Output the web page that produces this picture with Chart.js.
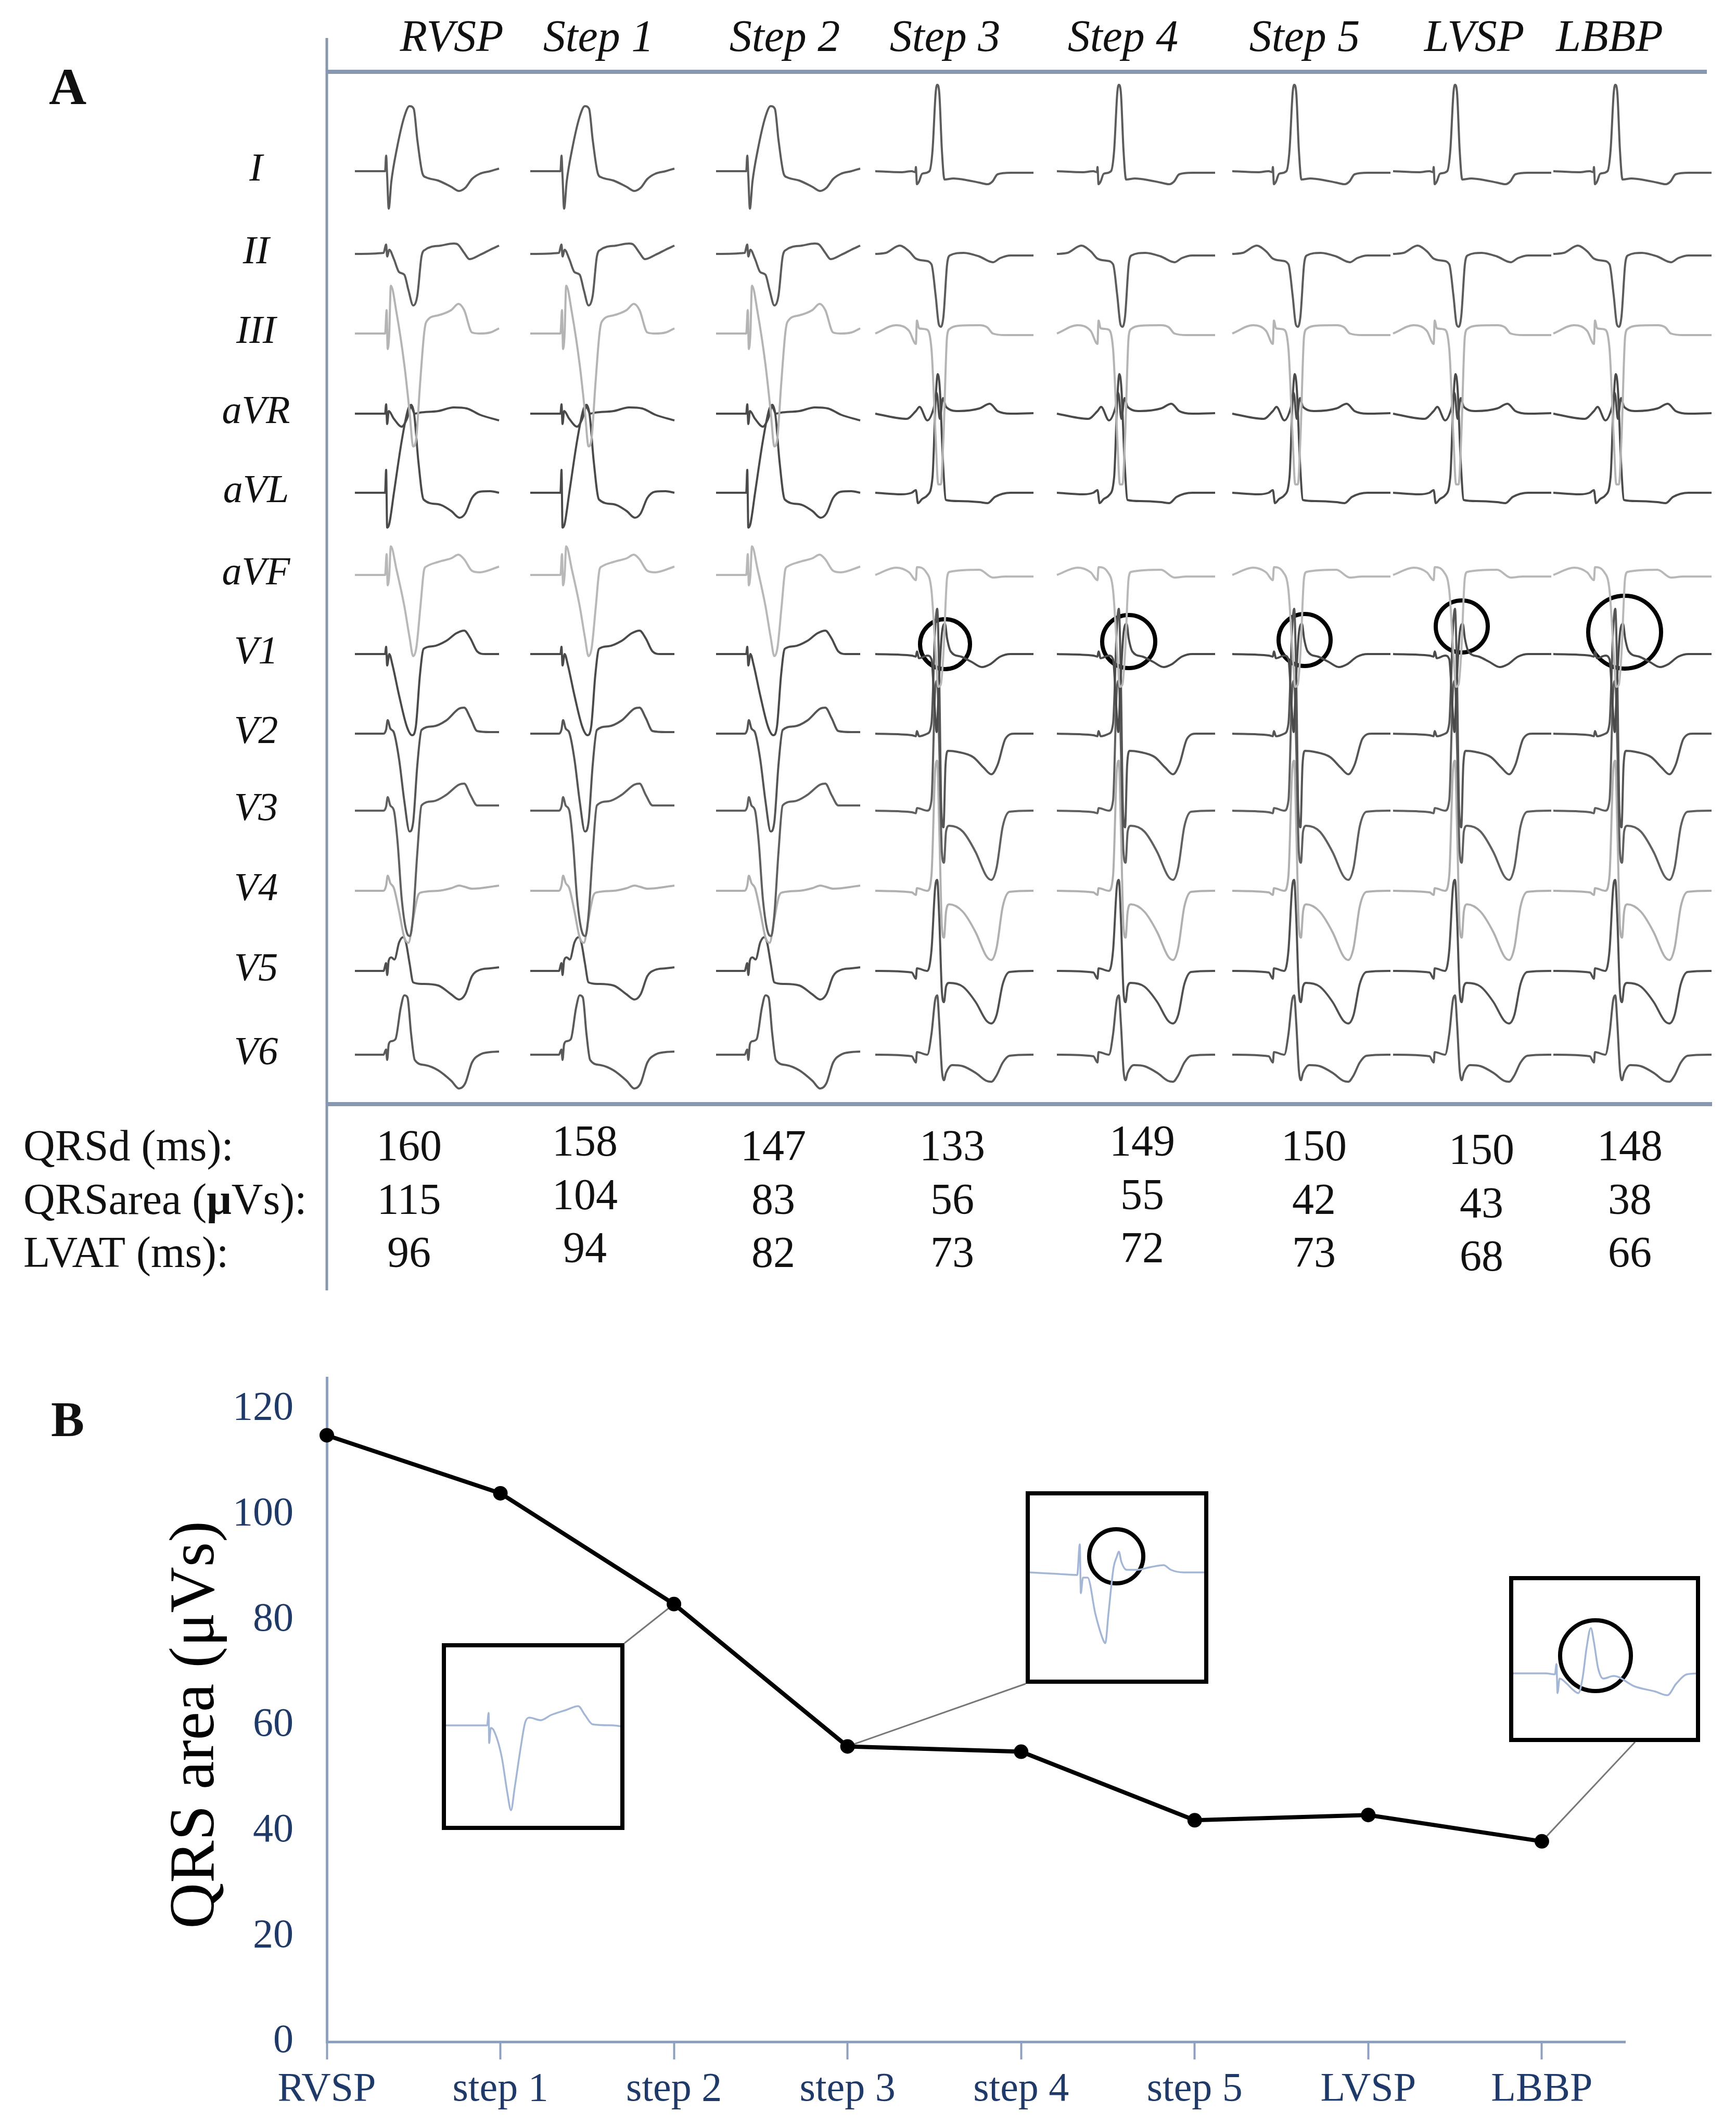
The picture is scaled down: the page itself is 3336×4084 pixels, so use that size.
<!DOCTYPE html>
<html>
<head>
<meta charset="utf-8">
<script src="https://cdn.jsdelivr.net/npm/chart.js@4.4.1/dist/chart.umd.min.js"></script>
<style>
html, body { margin: 0; padding: 0; background: #fff; }
body { width: 3336px; height: 4084px; position: relative; overflow: hidden; }
canvas { position: absolute; }
.inset { position: absolute; border: 8px solid #000; background: #fff; box-sizing: border-box; }
.inset canvas { left: 0; top: 0; }
</style>
</head>
<body>
<canvas id="ecg" width="3336" height="2480" style="left:0;top:0"></canvas>
<canvas id="area" width="3336" height="1604" style="left:0;top:2480px"></canvas>
<div class="inset" id="box0"><canvas id="inset0"></canvas></div>
<div class="inset" id="box1"><canvas id="inset1"></canvas></div>
<div class="inset" id="box2"><canvas id="inset2"></canvas></div>
<script>
// ---------- data ----------
const steps = ['RVSP', 'Step 1', 'Step 2', 'Step 3', 'Step 4', 'Step 5', 'LVSP', 'LBBP'];
const stepTicks = ['RVSP', 'step 1', 'step 2', 'step 3', 'step 4', 'step 5', 'LVSP', 'LBBP'];
const leads = ['I', 'II', 'III', 'aVR', 'aVL', 'aVF', 'V1', 'V2', 'V3', 'V4', 'V5', 'V6'];
const qrsDuration = [160, 158, 147, 133, 149, 150, 150, 148];
const qrsArea = [115, 104, 83, 56, 55, 42, 43, 38];
const lvat = [96, 94, 82, 73, 72, 73, 68, 66];
const yTicks = [0, 20, 40, 60, 80, 100, 120];
// which beat shape each step shows (wide RV-type or narrow conduction-system type)
const morph = ['wide', 'wide', 'wide', 'narrow', 'narrow', 'narrow', 'narrow', 'narrow'];

// beat shapes, [time from pacing spike, amplitude]
const wideI = [[-61,0],[-3,0],[-1,30],[1,-10],[4,-72],[9,-20],[19,40],[34,105],[44,125],[52,120],[59,60],[69,-5],[76,-12],[99,-18],[124,-30],[139,-38],[151,-32],[164,-15],[179,-5],[199,0],[216,5]];
const wideII = [[-61,0],[-6,2],[-1,18],[1,-5],[5,8],[14,-10],[24,-35],[34,-40],[42,-70],[51,-99],[59,-80],[67,-5],[74,8],[104,16],[129,20],[137,18],[149,2],[159,-10],[179,-2],[199,8],[216,16]];
const wideIII = [[-61,0],[-3,0],[0,45],[2,-30],[5,0],[8,92],[19,40],[34,-60],[44,-150],[51,-217],[57,-200],[64,-100],[72,0],[76,22],[99,35],[124,45],[138,57],[149,45],[164,2],[179,0],[199,2],[216,10]];
const wideAVR = [[-61,0],[-3,0],[-1,18],[1,-20],[4,5],[14,-10],[29,-25],[39,-10],[47,13],[54,0],[64,2],[99,5],[129,12],[154,10],[179,-2],[216,-13]];
const wideAVL = [[-61,0],[-3,0],[-1,44],[1,-67],[5,-60],[14,0],[29,100],[41,160],[47,169],[53,150],[61,60],[71,-13],[99,-22],[124,-35],[140,-48],[151,-40],[164,-10],[179,2],[199,3],[216,0]];
const wideAVF = [[-61,0],[-3,0],[0,40],[2,-20],[5,0],[8,55],[19,10],[34,-60],[44,-120],[51,-156],[57,-140],[65,-60],[72,10],[76,16],[99,25],[124,32],[138,39],[149,30],[164,8],[179,5],[216,16]];
const wideV1 = [[-61,0],[-3,0],[-1,14],[1,-22],[5,0],[11,-20],[24,-80],[39,-140],[49,-156],[56,-140],[64,-40],[71,10],[89,15],[114,25],[134,40],[149,45],[161,30],[174,5],[189,0],[216,0]];
const wideV2 = [[-61,0],[-6,0],[-1,8],[2,26],[7,10],[14,2],[24,-50],[34,-130],[44,-188],[51,-170],[59,-60],[67,7],[89,14],[114,25],[139,48],[149,50],[161,30],[174,5],[199,3],[216,3]];
const wideV3 = [[-61,0],[-6,0],[-1,8],[2,26],[7,10],[14,0],[21,-60],[29,-170],[39,-235],[45,-241],[51,-200],[59,-80],[67,10],[89,18],[114,30],[139,50],[149,52],[161,30],[174,10],[216,10]];
const wideV4 = [[-61,0],[-6,0],[-1,10],[2,29],[7,15],[14,5],[24,-40],[34,-90],[42,-100],[50,-60],[60,-10],[67,-3],[99,0],[124,5],[139,10],[149,8],[164,4],[216,10]];
const wideV5 = [[-61,0],[-6,0],[-1,15],[1,-8],[4,20],[9,26],[15,22],[24,55],[32,65],[37,55],[44,15],[51,-22],[69,-25],[99,-28],[124,-45],[139,-55],[151,-45],[164,-10],[179,2],[199,5],[216,7]];
const wideV6 = [[-61,0],[-6,0],[-1,10],[1,-10],[4,20],[9,26],[17,30],[27,90],[34,114],[40,110],[47,40],[54,-10],[74,-20],[99,-30],[124,-50],[139,-65],[151,-55],[164,-15],[179,0],[199,5],[216,6]];

const narrowI = [[-78,0],[-28,-2],[-8,0],[-1,-2],[0,8],[2,-25],[6,-20],[12,-5],[26,0],[32,40],[38,150],[41,166],[45,150],[50,40],[55,-16],[72,-14],[102,-18],[122,-22],[138,-25],[147,-20],[157,-6],[182,-3],[226,-3]];
const narrowII = [[-78,0],[-58,2],[-31,16],[-13,5],[0,-9],[17,-13],[30,-20],[38,-80],[44,-135],[48,-140],[53,-120],[60,-20],[65,-3],[92,2],[122,-5],[148,-16],[162,-8],[182,-3],[226,-3]];
const narrowIII = [[-78,0],[-38,16],[-13,5],[0,-20],[2,25],[6,10],[20,8],[30,-30],[38,-200],[43,-290],[48,-290],[53,-200],[60,-5],[65,9],[82,15],[122,16],[137,12],[148,0],[172,-3],[226,-3]];
const narrowAVR = [[-78,0],[-38,-8],[-18,-10],[0,5],[7,13],[22,-13],[34,10],[40,40],[46,-10],[52,30],[58,13],[82,5],[122,10],[142,19],[157,5],[182,0],[226,1]];
const narrowAVL = [[-78,0],[-28,-3],[-8,0],[0,5],[4,-20],[12,-12],[22,-5],[32,30],[38,180],[42,228],[46,200],[52,60],[58,-14],[82,-16],[122,-18],[138,-20],[152,-8],[182,0],[226,0]];
const narrowAVF = [[-78,0],[-38,14],[-13,5],[0,-10],[2,15],[20,5],[30,-30],[38,-150],[43,-215],[48,-210],[53,-150],[60,-5],[65,6],[122,10],[148,-5],[172,-3],[226,-3]];
const narrowV1 = [[-78,0],[-8,-3],[0,-5],[2,5],[6,-8],[22,-3],[30,-10],[36,-100],[40,-150],[44,-60],[50,40],[56,58],[60,30],[67,5],[87,-5],[107,-15],[127,-25],[142,-20],[162,-5],[182,0],[226,0]];
const narrowV2 = [[-78,0],[-8,-3],[0,-5],[2,5],[6,-5],[22,0],[30,20],[37,200],[41,240],[45,100],[49,-150],[53,-180],[57,-60],[62,-33],[80,-35],[110,-45],[130,-65],[145,-78],[157,-60],[172,-10],[190,0],[226,0]];
const narrowV3 = [[-78,0],[-8,-3],[0,-5],[2,5],[22,0],[30,20],[37,230],[41,250],[45,120],[50,-80],[54,-100],[58,-40],[64,-29],[90,-40],[115,-80],[135,-125],[145,-133],[155,-110],[167,-30],[180,-2],[226,0]];
const narrowV4 = [[-78,0],[-8,-3],[0,-8],[2,5],[22,0],[30,30],[37,230],[41,250],[45,120],[50,-70],[54,-90],[58,-40],[64,-26],[90,-40],[115,-80],[135,-125],[145,-133],[155,-110],[167,-30],[180,-2],[226,0]];
const narrowV5 = [[-78,0],[-8,-3],[0,-15],[2,5],[22,0],[30,40],[37,160],[41,175],[45,100],[50,-40],[54,-60],[58,-30],[64,-23],[90,-30],[115,-60],[135,-95],[145,-101],[155,-85],[167,-25],[180,-2],[226,0]];
const narrowV6 = [[-78,0],[-8,-3],[0,-15],[2,5],[22,0],[30,40],[37,105],[41,114],[45,60],[50,-30],[54,-49],[58,-35],[70,-20],[90,-22],[115,-35],[135,-50],[145,-52],[155,-40],[167,-15],[180,-2],[226,0]];

// V1 beats shown enlarged in panel B (step 2, step 3, LBBP)
const insetStep2 = [[-86,0],[-10,0],[-3,0],[0,24],[1,-34],[4,-5],[10,-10],[25,-60],[36,-130],[43,-163],[50,-120],[62,-40],[70,5],[78,15],[100,10],[120,20],[150,30],[172,37],[185,20],[200,2],[240,0],[261,-3]];
const insetStep3 = [[-97,0],[-40,-3],[-5,-5],[0,54],[2,-40],[6,-10],[15,-10],[30,-80],[45,-130],[49,-136],[55,-80],[65,10],[71,30],[75,40],[80,20],[90,5],[110,5],[135,10],[161,14],[175,5],[200,0],[239,0]];
const insetLBBP = [[-83,0],[-20,0],[-3,-2],[0,18],[2,-38],[6,-10],[20,-20],[30,-30],[42,-38],[50,-10],[58,50],[66,87],[72,60],[80,10],[90,-10],[110,-5],[150,-25],[190,-35],[213,-42],[230,-20],[250,-2],[273,0]];

const wideShapes = [wideI, wideII, wideIII, wideAVR, wideAVL, wideAVF, wideV1, wideV2, wideV3, wideV4, wideV5, wideV6];
const narrowShapes = [narrowI, narrowII, narrowIII, narrowAVR, narrowAVL, narrowAVF, narrowV1, narrowV2, narrowV3, narrowV4, narrowV5, narrowV6];

// ---------- layout ----------
const SERIF = '"Liberation Serif", "DejaVu Serif", serif';
const spikeX = [743, 1080, 1437, 1760, 2109, 2446, 2755, 3063];
const rowBase = [329, 488, 641, 795, 947, 1105, 1257, 1410, 1558, 1712, 1866, 2027];
const leadColor = ['#5c5c5c', '#5c5c5c', '#b4b4b4', '#4a4a4a', '#4a4a4a', '#b8b8b8', '#4a4a4a', '#555555', '#606060', '#b0b0b0', '#505050', '#5a5a5a'];
const headerX = [868, 1150, 1508, 1816, 2158, 2507, 2833, 3093];
const valueX = [786, 1124, 1486, 1830, 2195, 2525, 2847, 3132];
const valueDy = [0, -9, 0, 0, -9, 0, 7, 0];
const tableBase = [2230, 2333, 2435];
// circles around the terminal R' in V1 (steps 3..LBBP): [col, dt, da, radius]
const ringV1 = [[3, 56, 19, 48], [4, 60, 24, 51], [5, 61, 27, 50], [6, 54, 53, 50], [7, 59, 42, 70]];
const AXIS_A = '#8797b0';
const AXIS_B = '#8fa0bf';
const NAVY = '#1f3a68';

// ---------- panel A ----------
const ecgSets = [];
for (let c = 0; c < steps.length; c++) {
  const shapes = morph[c] === 'wide' ? wideShapes : narrowShapes;
  for (let r = 0; r < leads.length; r++) {
    ecgSets.push({
      data: shapes[r].map(p => ({ x: spikeX[c] + p[0], y: rowBase[r] - p[1] })),
      showLine: true,
      borderColor: leadColor[r],
      borderWidth: 4,
      pointRadius: 0,
      cubicInterpolationMode: 'monotone'
    });
  }
}
ecgSets.push({
  data: ringV1.map(k => ({ x: spikeX[k[0]] + k[1], y: rowBase[6] - k[2] })),
  showLine: false,
  pointRadius: ringV1.map(k => k[3]),
  pointBorderWidth: 8,
  pointBorderColor: '#000',
  pointBackgroundColor: 'rgba(0,0,0,0)'
});

const panelA = {
  id: 'panelA',
  beforeDatasetsDraw(chart) {
    const c = chart.ctx;
    c.save();
    c.strokeStyle = AXIS_A;
    c.lineWidth = 5;
    c.beginPath(); c.moveTo(628, 73); c.lineTo(628, 2480); c.stroke();
    c.lineWidth = 8;
    c.beginPath(); c.moveTo(628, 138); c.lineTo(3280, 138); c.stroke();
    c.beginPath(); c.moveTo(628, 2122); c.lineTo(3290, 2122); c.stroke();
    c.restore();
  },
  afterDraw(chart) {
    const c = chart.ctx;
    c.save();
    c.fillStyle = '#111';
    c.textBaseline = 'alphabetic';
    c.font = 'bold 100px ' + SERIF;
    c.textAlign = 'center';
    c.fillText('A', 130, 200);
    c.font = 'italic 86px ' + SERIF;
    steps.forEach((s, i) => c.fillText(s, headerX[i], 98));
    c.font = 'italic 76px ' + SERIF;
    leads.forEach((l, i) => c.fillText(l, 492, rowBase[i] + 18));
    // table under the traces
    c.font = '84px ' + SERIF;
    c.textAlign = 'left';
    c.fillText('QRSd (ms):', 45, tableBase[0]);
    let x = 45;
    c.fillText('QRSarea (', x, tableBase[1]);
    x += c.measureText('QRSarea (').width;
    c.font = 'bold 84px ' + SERIF;
    c.fillText('\u03bc', x, tableBase[1]);
    x += c.measureText('\u03bc').width;
    c.font = '84px ' + SERIF;
    c.fillText('Vs):', x, tableBase[1]);
    c.fillText('LVAT (ms):', 45, tableBase[2]);
    c.textAlign = 'center';
    [qrsDuration, qrsArea, lvat].forEach((row, j) => {
      row.forEach((v, i) => c.fillText(String(v), valueX[i], tableBase[j] + valueDy[i]));
    });
    c.restore();
  }
};

new Chart(document.getElementById('ecg'), {
  type: 'scatter',
  data: { datasets: ecgSets },
  options: {
    responsive: false,
    animation: false,
    devicePixelRatio: 1,
    layout: { padding: 0, autoPadding: false },
    plugins: { legend: { display: false }, tooltip: { enabled: false } },
    scales: {
      x: { type: 'linear', display: false, min: 0, max: 3336 },
      y: { type: 'linear', display: false, min: 0, max: 2480, reverse: true }
    }
  },
  plugins: [panelA]
});

// ---------- panel B ----------
const insetBoxes = [[849, 3158, 351, 359], [1971, 2866, 351, 370], [2900, 3029, 367, 319]];
const insetAnchor = [[1200, 3158], [1971, 3236], [3142, 3348]];
const insetFrom = [2, 3, 7];

const panelB = {
  id: 'panelB',
  beforeDatasetsDraw(chart) {
    const c = chart.ctx;
    const meta = chart.getDatasetMeta(0);
    c.save();
    c.strokeStyle = '#777';
    c.lineWidth = 3;
    insetFrom.forEach((idx, k) => {
      const pt = meta.data[idx];
      c.beginPath();
      c.moveTo(pt.x, pt.y);
      c.lineTo(insetAnchor[k][0], insetAnchor[k][1] - 2480);
      c.stroke();
    });
    c.restore();
  },
  afterDraw(chart) {
    const c = chart.ctx;
    c.save();
    c.fillStyle = '#111';
    c.font = 'bold 96px ' + SERIF;
    c.textAlign = 'center';
    c.fillText('B', 130, 2760 - 2480);
    c.translate(378, 3315 - 2480);
    c.rotate(-Math.PI / 2);
    c.font = '122px ' + SERIF;
    c.textBaseline = 'middle';
    c.fillStyle = '#000';
    c.fillText('QRS area (\u03bcVs)', 0, 0);
    c.restore();
  }
};

new Chart(document.getElementById('area'), {
  type: 'line',
  data: {
    datasets: [{
      data: qrsArea.map((v, i) => ({ x: i, y: v })),
      borderColor: '#000',
      backgroundColor: '#000',
      borderWidth: 8,
      pointRadius: 10,
      pointBackgroundColor: '#000',
      pointBorderColor: '#000',
      tension: 0,
      clip: false
    }]
  },
  options: {
    responsive: false,
    animation: false,
    devicePixelRatio: 1,
    layout: { padding: { left: 0, top: 168, right: 213, bottom: 0 }, autoPadding: false },
    plugins: { legend: { display: false }, tooltip: { enabled: false } },
    scales: {
      x: {
        type: 'linear',
        min: 0,
        max: 7.48,
        afterFit(s) { s.height = 160; },
        border: { display: true, color: AXIS_B, width: 5 },
        grid: { display: true, drawOnChartArea: false, drawTicks: true, tickLength: 34, tickColor: AXIS_B, tickWidth: 4, color: AXIS_B },
        ticks: {
          stepSize: 1,
          includeBounds: false,
          autoSkip: false,
          maxRotation: 0,
          padding: 12,
          color: NAVY,
          font: { family: SERIF, size: 78 },
          callback: v => (Number.isInteger(v) ? stepTicks[v] : '')
        }
      },
      y: {
        type: 'linear',
        min: 0,
        max: 125.9,
        afterFit(s) { s.width = 628; },
        border: { display: true, color: AXIS_B, width: 5 },
        grid: { display: false, drawTicks: false },
        afterBuildTicks(s) { s.ticks = yTicks.map(v => ({ value: v })); },
        ticks: {
          padding: 64,
          color: NAVY,
          font: { family: SERIF, size: 78 }
        }
      }
    }
  },
  plugins: [panelB]
});

// ---------- insets ----------
const insetTraces = [insetStep2, insetStep3, insetLBBP];
const insetSpike = [939, 2075, 2991];
const insetBase = [3316, 3022, 3216];
const insetRing = [null, [70, 31, 52], [75, 34, 68]];

insetTraces.forEach((tr, k) => {
  const [bx, by, bw, bh] = insetBoxes[k];
  const box = document.getElementById('box' + k);
  box.style.left = bx + 'px';
  box.style.top = by + 'px';
  box.style.width = bw + 'px';
  box.style.height = bh + 'px';
  const cv = document.getElementById('inset' + k);
  const iw = bw - 16, ih = bh - 16;
  cv.width = iw;
  cv.height = ih;
  const sets = [{
    data: tr.map(p => ({ x: p[0], y: p[1] })),
    showLine: true,
    borderColor: '#a3b6d5',
    borderWidth: 3.5,
    pointRadius: 0,
    cubicInterpolationMode: 'monotone'
  }];
  if (insetRing[k]) {
    sets.push({
      data: [{ x: insetRing[k][0], y: insetRing[k][1] }],
      showLine: false,
      pointRadius: insetRing[k][2],
      pointBorderWidth: 8,
      pointBorderColor: '#000',
      pointBackgroundColor: 'rgba(0,0,0,0)'
    });
  }
  new Chart(cv, {
    type: 'scatter',
    data: { datasets: sets },
    options: {
      responsive: false,
      animation: false,
      devicePixelRatio: 1,
      layout: { padding: 0, autoPadding: false },
      plugins: { legend: { display: false }, tooltip: { enabled: false } },
      scales: {
        x: { type: 'linear', display: false, min: bx + 8 - insetSpike[k], max: bx + bw - 8 - insetSpike[k] },
        y: { type: 'linear', display: false, min: insetBase[k] - (by + bh - 8), max: insetBase[k] - (by + 8) }
      }
    }
  });
});
</script>
</body>
</html>
